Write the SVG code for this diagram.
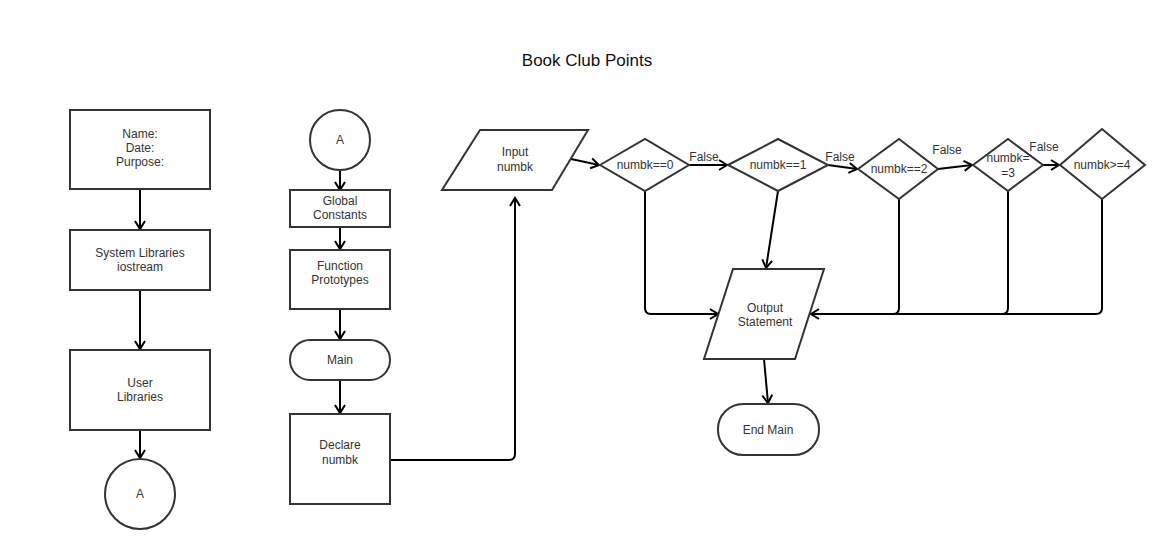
<svg xmlns="http://www.w3.org/2000/svg" width="1171" height="550" viewBox="0 0 1171 550">
<defs>
<marker id="arr" markerUnits="userSpaceOnUse" markerWidth="14" markerHeight="14" viewBox="0 0 14 14" refX="12" refY="7" orient="auto">
<path d="M4,2 L12,7 L4,12" fill="none" stroke="#000" stroke-width="2"/>
</marker>
</defs>
<style>
.s{fill:#fff;stroke:#333;stroke-width:2}
.t{font-family:"Liberation Sans",Arial,sans-serif;font-size:12px;fill:#333;text-anchor:middle}
.c{fill:none;stroke:#000;stroke-width:2;marker-end:url(#arr)}
.l{fill:none;stroke:#000;stroke-width:2}
</style>
<rect width="1171" height="550" fill="#fff"/>
<text x="587" y="66" class="t" style="font-size:17px;fill:#111">Book Club Points</text>

<g id="connectors">
<path class="c" d="M140,189 V229"/>
<path class="c" d="M140,290 V349"/>
<path class="c" d="M140,430 V458"/>
<path class="c" d="M340,170 V190"/>
<path class="c" d="M340,227 V249"/>
<path class="c" d="M340,309 V339"/>
<path class="c" d="M340,380 V413"/>
<path class="c" d="M390,460 H509 Q515,460 515,454 V198"/>
<path class="c" d="M571,159 L599,165"/>
<path class="c" d="M689,165 H727"/>
<path class="c" d="M828,165 L857,169"/>
<path class="c" d="M938,169 L972,165"/>
<path class="c" d="M1043,165 L1059,165"/>
<path class="c" d="M645,191 V308 Q645,314 651,314 H718"/>
<path class="c" d="M778,191 L766,268"/>
<path class="c" d="M899,199 V308 Q899,314 893,314 H811"/>
<path class="l" d="M1008,191 V308 Q1008,314 1002,314 H893"/>
<path class="l" d="M1102,199 V308 Q1102,314 1096,314 H1002"/>
<path class="c" d="M764,359 L768,403"/>
<text x="704" y="161" class="t">False</text>
<text x="840" y="161" class="t">False</text>
<text x="947" y="154" class="t">False</text>
<text x="1044" y="151" class="t">False</text>
</g>

<g id="header">
<rect class="s" x="70" y="110" width="140" height="79"/>
<text class="t" x="140" y="138">Name:</text>
<text class="t" x="140" y="152">Date:</text>
<text class="t" x="140" y="166">Purpose:</text>
</g>
<g id="syslib">
<rect class="s" x="70" y="230" width="140" height="60"/>
<text class="t" x="140" y="257">System Libraries</text>
<text class="t" x="140" y="271">iostream</text>
</g>
<g id="userlib">
<rect class="s" x="70" y="350" width="140" height="80"/>
<text class="t" x="140" y="387">User</text>
<text class="t" x="140" y="401">Libraries</text>
</g>
<g id="connA1">
<circle class="s" cx="140" cy="494" r="35"/>
<text class="t" x="140" y="498">A</text>
</g>

<g id="connA2">
<circle class="s" cx="340" cy="140" r="30"/>
<text class="t" x="340" y="144">A</text>
</g>
<g id="globals">
<rect class="s" x="290" y="190" width="100" height="37"/>
<text class="t" x="340" y="205">Global</text>
<text class="t" x="340" y="219">Constants</text>
</g>
<g id="protos">
<rect class="s" x="290" y="250" width="100" height="59"/>
<text class="t" x="340" y="270">Function</text>
<text class="t" x="340" y="284">Prototypes</text>
</g>
<g id="main">
<rect class="s" x="290" y="340" width="100" height="40" rx="20" ry="20"/>
<text class="t" x="340" y="364">Main</text>
</g>
<g id="declare">
<rect class="s" x="290" y="414" width="100" height="90"/>
<text class="t" x="340" y="449">Declare</text>
<text class="t" x="340" y="464">numbk</text>
</g>

<g id="input">
<polygon class="s" points="480,130 588,130 552,190 442,190"/>
<text class="t" x="515" y="156">Input</text>
<text class="t" x="515" y="171">numbk</text>
</g>
<g id="d0">
<polygon class="s" points="600,165 645,139 689,165 645,191"/>
<text class="t" x="645" y="169">numbk==0</text>
</g>
<g id="d1">
<polygon class="s" points="728,165 778,139 828,165 778,191"/>
<text class="t" x="778" y="169">numbk==1</text>
</g>
<g id="d2">
<polygon class="s" points="858,169 899,139 938,169 899,199"/>
<text class="t" x="899" y="173">numbk==2</text>
</g>
<g id="d3">
<polygon class="s" points="973,165 1008,139 1043,165 1008,191"/>
<text class="t" x="1008" y="162">numbk=</text>
<text class="t" x="1008" y="177">=3</text>
</g>
<g id="d4">
<polygon class="s" points="1060,165 1102,129 1145,165 1102,199"/>
<text class="t" x="1102" y="169">numbk&gt;=4</text>
</g>
<g id="output">
<polygon class="s" points="733,269 824,269 795,359 704,359"/>
<text class="t" x="765" y="312">Output</text>
<text class="t" x="765" y="326">Statement</text>
</g>
<g id="endmain">
<rect class="s" x="718" y="404" width="101" height="51" rx="25" ry="25"/>
<text class="t" x="768" y="434">End Main</text>
</g>
</svg>
